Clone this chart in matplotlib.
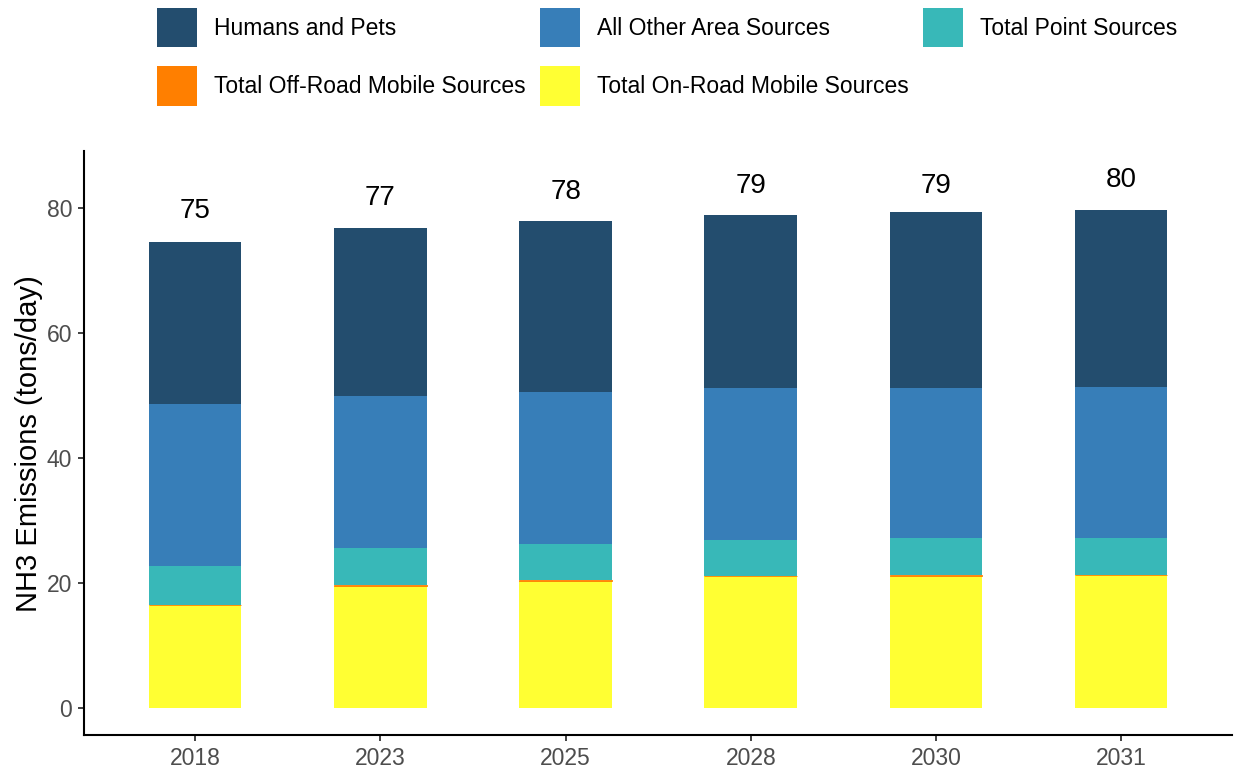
import matplotlib
matplotlib.use("Agg")
import matplotlib.pyplot as plt
from matplotlib.patches import Patch
import numpy as np

plt.rcParams['font.family'] = ['Liberation Sans', 'DejaVu Sans']

# 数据（tons/day），按堆叠顺序自下而上
years = ['2018', '2023', '2025', '2028', '2030', '2031']
on_road = [16.4, 19.5, 20.3, 21.0, 21.1, 21.2]
off_road = [0.1, 0.1, 0.1, 0.1, 0.1, 0.1]
point_src = [6.2, 6.0, 5.8, 5.7, 5.9, 5.9]
other_area = [25.9, 24.2, 24.3, 24.3, 24.1, 24.1]
humans_pets = [25.9, 26.9, 27.3, 27.7, 28.1, 28.3]
total_labels = [75, 77, 78, 79, 79, 80]

series = [
    ('Total On-Road Mobile Sources', on_road, '#FFFF33'),
    ('Total Off-Road Mobile Sources', off_road, '#FF7F00'),
    ('Total Point Sources', point_src, '#38B8B8'),
    ('All Other Area Sources', other_area, '#377EB8'),
    ('Humans and Pets', humans_pets, '#234D6E'),
]

fig = plt.figure(figsize=(12.36, 7.69), dpi=100)
ax = fig.add_axes([0.068, 0.044, 0.929, 0.759])

x = np.arange(len(years))
bottom = np.zeros(len(years))
handles = {}
for name, vals, color in series:
    # 越野源数值很小，加细边让它在每根柱子上都可见
    lw = 0.6 if name.startswith('Total Off-Road') else 0
    ax.bar(x, vals, 0.5, bottom=bottom, color=color, edgecolor=color, linewidth=lw)
    bottom += np.array(vals)
    handles[name] = Patch(facecolor=color, edgecolor='none')

# 顶部总量标签
for xi, lab in zip(x, total_labels):
    ax.text(xi, lab + 4.5, str(lab), ha='center', va='center', fontsize=20, color='black')

ax.set_xlim(-0.6, 5.6)
ax.set_ylim(-4.4, 89)
ax.set_xticks(x)
ax.set_xticklabels(years)
ax.set_yticks([0, 20, 40, 60, 80])
ax.tick_params(axis='both', labelsize=16.5, labelcolor='#4D4D4D', color='#333333',
               length=4.5, width=1.3, pad=4)
ax.set_ylabel('NH3 Emissions (tons/day)', fontsize=21, color='black', labelpad=3)
for side in ['top', 'right']:
    ax.spines[side].set_visible(False)
for side in ['left', 'bottom']:
    ax.spines[side].set_linewidth(1.5)
    ax.spines[side].set_color('black')

# 图例：按行排列（matplotlib 按列填充，所以重排）
order = ['Humans and Pets', 'Total Off-Road Mobile Sources',
         'All Other Area Sources', 'Total On-Road Mobile Sources',
         'Total Point Sources']
fig.legend([handles[n] for n in order], order, ncol=3, frameon=False,
           loc='upper left', bbox_to_anchor=(157 / 1236, 1 - 8 / 769),
           borderaxespad=0, borderpad=0, fontsize=16.5,
           handlelength=1.75, handleheight=2.26, handletextpad=0.74,
           columnspacing=0.62, labelspacing=0.83)

fig.savefig('out.png', dpi=100)
